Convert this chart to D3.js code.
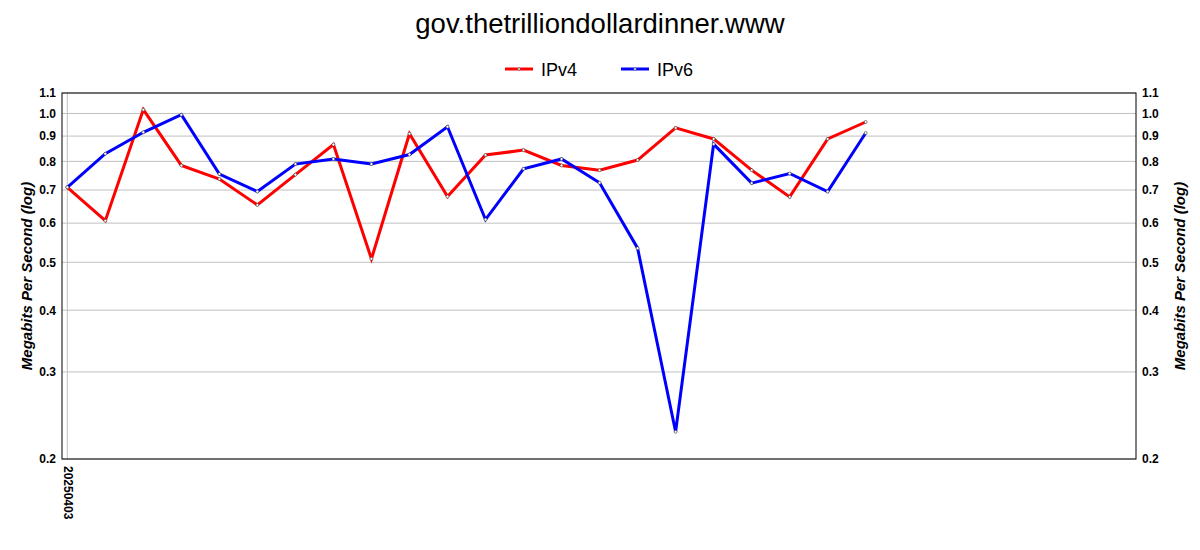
<!DOCTYPE html>
<html><head><meta charset="utf-8">
<script src="https://cdn.jsdelivr.net/npm/d3@7"></script>
<style>body{margin:0;background:#fff;font-family:"Liberation Sans",Arial,sans-serif;}</style>
</head><body><svg id="c" width="1200" height="550"></svg>
<script>
const title = "gov.thetrilliondollardinner.www";
const dates = ["20250403"];
const seriesNames = ["IPv4","IPv6"];
const seriesColors = ["#ff0000","#0000ff"];
const ipv4 = [0.709,0.607,1.018,0.785,0.737,0.653,0.752,0.865,0.508,0.910,0.679,0.824,0.843,0.785,0.768,0.805,0.935,0.888,0.768,0.678,0.888,0.961];
const ipv6 = [0.709,0.829,0.916,0.994,0.754,0.695,0.790,0.809,0.790,0.826,0.940,0.610,0.773,0.809,0.724,0.534,0.227,0.867,0.723,0.756,0.695,0.913];
const yTicks = [0.2,0.3,0.4,0.5,0.6,0.7,0.8,0.9,1.0,1.1];
const yTitle = "Megabits Per Second (log)";

const svg = d3.select("#c");
const L=62, R=1136, T=93, B=459;
const x = d3.scaleLinear().domain([0, ipv4.length-1]).range([67.3, 865.7]);
const y = d3.scaleLog().domain([0.2,1.1]).range([B,T]);

svg.append("text").attr("x",600).attr("y",33).attr("text-anchor","middle")
  .attr("font-size",27.5).attr("fill","#000").text(title);

// grid
svg.append("g").selectAll("line").data(yTicks).join("line")
  .attr("x1",L).attr("x2",R).attr("y1",d=>y(d)).attr("y2",d=>y(d))
  .attr("stroke","#c0c0c0").attr("stroke-width",1);
svg.append("line").attr("x1",x(0)).attr("x2",x(0)).attr("y1",T).attr("y2",B)
  .attr("stroke","#c0c0c0").attr("stroke-width",1);

// axes
const fmt = d3.format(".1f");
const la = svg.append("g").attr("transform",`translate(${L},0)`)
  .call(d3.axisLeft(y).tickValues(yTicks).tickFormat(fmt).tickSize(0).tickPadding(6));
const ra = svg.append("g").attr("transform",`translate(${R},0)`)
  .call(d3.axisRight(y).tickValues(yTicks).tickFormat(fmt).tickSize(0).tickPadding(6));
[la,ra].forEach(a=>{a.select(".domain").remove();
  a.selectAll("text").attr("font-size",12).attr("font-weight","bold")
   .attr("font-family","'Liberation Sans',Arial,sans-serif").attr("fill","#000");});

const xa = svg.append("g").attr("transform",`translate(0,${B})`)
  .call(d3.axisBottom(x).tickValues([0]).tickFormat((d,i)=>dates[i]).tickSize(0));
xa.select(".domain").remove();
xa.selectAll("text").attr("font-size",12).attr("font-weight","bold")
  .attr("font-family","'Liberation Sans',Arial,sans-serif").attr("fill","#000")
  .attr("text-anchor","start").attr("transform","rotate(90)").attr("x",7).attr("y",0).attr("dy","0.35em");

// frame
svg.append("rect").attr("x",L).attr("y",T).attr("width",R-L).attr("height",B-T)
  .attr("fill","none").attr("stroke","#000").attr("stroke-width",1);

// axis titles
svg.append("text").attr("transform",`translate(31.5,${(T+B)/2}) rotate(-90)`)
  .attr("text-anchor","middle").attr("font-size",15).attr("font-weight","bold").attr("font-style","italic").text(yTitle);
svg.append("text").attr("transform",`translate(1185,${(T+B)/2}) rotate(-90)`)
  .attr("text-anchor","middle").attr("font-size",15).attr("font-weight","bold").attr("font-style","italic").text(yTitle);

// lines
const line = d3.line().x((d,i)=>x(i)).y(d=>y(d));
[ipv4,ipv6].forEach((s,k)=>{
  svg.append("path").datum(s).attr("d",line).attr("fill","none")
    .attr("stroke",seriesColors[k]).attr("stroke-width",3).attr("stroke-linejoin","miter");
});
[ipv4,ipv6].forEach((s,k)=>{
  svg.append("g").selectAll("circle").data(s).join("circle")
    .attr("cx",(d,i)=>x(i)).attr("cy",d=>y(d)).attr("r",1.5)
    .attr("fill","#fff").attr("stroke","#333").attr("stroke-width",0.6);
});

// legend
const lg = [{x:505,t:541},{x:621,t:657}];
seriesNames.forEach((n,k)=>{
  svg.append("line").attr("x1",lg[k].x).attr("x2",lg[k].x+28).attr("y1",69).attr("y2",69)
    .attr("stroke",seriesColors[k]).attr("stroke-width",3);
  svg.append("circle").attr("cx",lg[k].x+14).attr("cy",69).attr("r",1.3).attr("fill","#fff").attr("stroke","#333").attr("stroke-width",0.5);
  svg.append("text").attr("x",lg[k].t).attr("y",75.5).attr("font-size",18).attr("fill","#000").text(n);
});
</script></body></html>
